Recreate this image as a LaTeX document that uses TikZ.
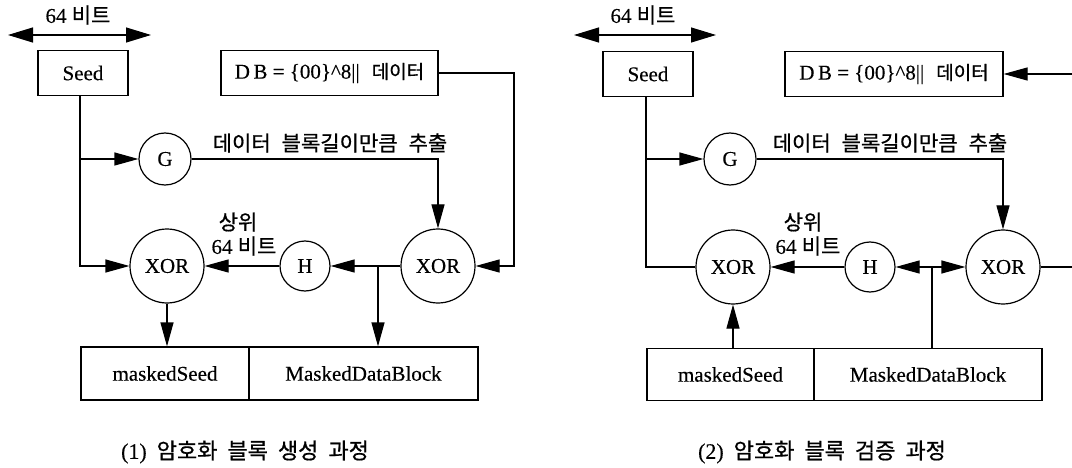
\documentclass[tikz,border=0pt]{standalone}
\usepackage{fontspec}
\setmainfont{Liberation Serif}[FakeBold=0.3]
\newfontfamily\krfont{Noto Sans CJK KR}[FakeBold=0.7]
\newcommand{\hangul}[1]{{\krfont #1}}
\usetikzlibrary{arrows.meta}
\tikzset{
  wire/.style={line width=1.2pt},
  arr/.style={wire, -{Triangle[length=24pt,width=13pt]}},
  dbl/.style={wire, {Triangle[length=25pt,width=15pt]}-{Triangle[length=25pt,width=15pt]}},
  txt/.style={inner sep=0pt, font=\fontsize{21}{25}\selectfont},
  box/.style={draw, line width=1.2pt, minimum height=45pt, inner sep=0pt, font=\fontsize{21}{25}\selectfont},
  op/.style={draw, circle, line width=1.2pt, inner sep=0pt, font=\fontsize{21}{25}\selectfont},
  caption/.style={inner sep=0pt, font=\fontsize{22}{26}\selectfont},
}
\newcommand{\dbtext}{D\,B = \{00\}\textasciicircum 8||\hspace{12pt}{\fontsize{19}{22}\selectfont\hangul{데이터}}}
\newcommand{\extracttext}{\hangul{데이터\hspace{11pt}블록길이만큼\hspace{11pt}추출}}
\begin{document}
\begin{tikzpicture}[x=1pt, y=-1pt]
\path[fill=white, use as bounding box] (0,0) rectangle (1072,468);

% ---------- (1) block generation ----------
\coordinate (wL1) at (8,35);
\coordinate (wR1) at (151,35);
\draw[dbl] (wL1) -- (wR1);
\node[txt] (bits1) at (78,15) {64 \hangul{비트}};
\node[box, minimum width=90pt] (seed1) at (83,73) {Seed};
\node[box, minimum width=217pt] (db1) at (329.5,73) {\dbtext};
\node[op, minimum size=52pt] (g1) at (165,159) {G};
\node[txt] (ext1) at (330,143) {\extracttext};
\node[op, minimum size=74pt] (xa1) at (167,266) {XOR};
\node[op, minimum size=50pt] (h1) at (305,266) {H};
\node[op, minimum size=74pt] (xb1) at (438,266) {XOR};
\node[txt] (up1) at (238,222) {\hangul{상위}};
\node[txt] (upb1) at (244,246) {64 \hangul{비트}};
\node[box, minimum width=168pt, minimum height=53pt] (ms1) at (165,373.5) {maskedSeed};
\node[box, minimum width=229pt, minimum height=53pt] (md1) at (363.5,373.5) {MaskedDataBlock};
\node[caption] (cap1) at (245,452) {(1)\hspace{10pt}\hangul{암호화\hspace{10pt}블록\hspace{10pt}생성\hspace{10pt}과정}};

\coordinate (s1) at ([xshift=-3pt]seed1.south);
\draw[arr] (s1) |- (g1.west);
\draw[arr] (s1) |- (xa1.west);
\draw[arr] (g1.east) -| (xb1.north);
\coordinate (r1) at (514,266);
\draw[arr] (db1.east) -| (r1) -- (xb1.east);
\draw[arr] (xb1.west) -- (h1.east);
\draw[arr] (h1.west) -- (xa1.east);
\coordinate (b1) at (378,266);
\draw[arr] (b1) -- (b1 |- md1.north);
\draw[arr] (xa1.south) -- (xa1.south |- ms1.north);

% ---------- (2) block verification ----------
\coordinate (wL2) at (574,35);
\coordinate (wR2) at (716,35);
\draw[dbl] (wL2) -- (wR2);
\node[txt] (bits2) at (643,15) {64 \hangul{비트}};
\node[box, minimum width=90pt] (seed2) at (648,74) {Seed};
\node[box, minimum width=218pt] (db2) at (894,74) {\dbtext};
\node[op, minimum size=52pt] (g2) at (730,159) {G};
\node[txt] (ext2) at (890,143) {\extracttext};
\node[op, minimum size=74pt] (xa2) at (733,267) {XOR};
\node[op, minimum size=50pt] (h2) at (870,267) {H};
\node[op, minimum size=74pt] (xb2) at (1003,267) {XOR};
\node[txt] (up2) at (803,222) {\hangul{상위}};
\node[txt] (upb2) at (808,246) {64 \hangul{비트}};
\node[box, minimum width=167pt, minimum height=52pt] (ms2) at (730.5,374.5) {maskedSeed};
\node[box, minimum width=228pt, minimum height=52pt] (md2) at (928,374.5) {MaskedDataBlock};
\node[caption] (cap2) at (822,452) {(2)\hspace{10pt}\hangul{암호화\hspace{10pt}블록\hspace{10pt}검증\hspace{10pt}과정}};

\coordinate (s2) at ([xshift=-2pt]seed2.south);
\draw[arr] (s2) |- (g2.west);
\draw[wire] (s2) |- (xa2.west);
\draw[arr] (g2.east) -| (xb2.north);
\coordinate (b2) at (932,267);
\draw[wire] (b2 |- md2.north) -- (b2);
\draw[arr] (b2) -- (h2.east);
\draw[arr] (b2) -- (xb2.west);
\draw[arr] (h2.west) -- (xa2.east);
\draw[arr] (ms2.north -| xa2.south) -- (xa2.south);
\coordinate (r2) at (1082,267);
\draw[arr] (xb2.east) -- (r2) |- (db2.east);
\end{tikzpicture}
\end{document}
